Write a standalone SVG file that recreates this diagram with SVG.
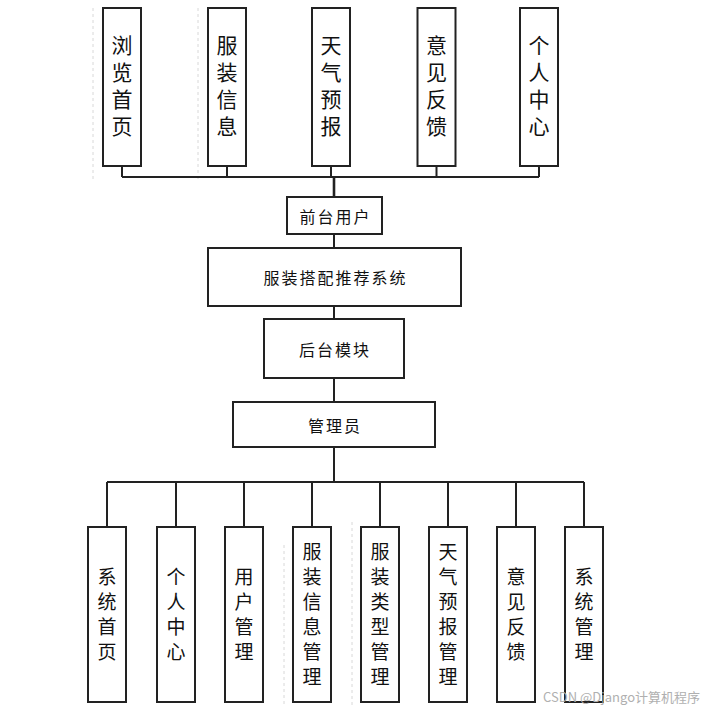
<svg xmlns="http://www.w3.org/2000/svg" width="710" height="710" viewBox="0 0 710 710">
<style>
.box{fill:#fff;stroke:#222;stroke-width:2}
.ln{fill:none;stroke:#222;stroke-width:2}
.guide{fill:none;stroke:#d8d8d8;stroke-width:1;stroke-dasharray:3,3}
.t{font-family:"Noto Sans CJK SC","Noto Sans",sans-serif;fill:#111;text-anchor:middle}
.h{dominant-baseline:central}
.v{writing-mode:vertical-rl;text-orientation:upright}
.tv{font-size:21px;letter-spacing:6px}
.tb{font-size:19px;letter-spacing:6px}
.th{font-size:16px;letter-spacing:2px}
.wm{font-family:"Noto Sans CJK SC","Noto Sans",sans-serif;font-size:13px;fill:#b0b0b0}
</style>
<rect width="710" height="710" fill="#fff"/>
<g id="guides">
<line class="guide" x1="93" y1="8" x2="93" y2="180"/>
<line class="guide" x1="198" y1="8" x2="198" y2="180"/>
<line class="guide" x1="284" y1="545" x2="284" y2="705"/>
<line class="guide" x1="352" y1="522" x2="352" y2="705"/>
</g>
<g id="connectors">
<path class="ln" d="M122,166V177M227,166V177M331,166V177M436.5,166V177M539,166V177M122,177H539"/>
<path class="ln" style="stroke-width:2.6" d="M334,177V197"/>
<path class="ln" d="M334,234V248M334,306V319M334,378V402M334,447V482"/>
<path class="ln" d="M107,482H584M107,482V527M176,482V527M244,482V527M312,482V527M380,482V527M448,482V527M516,482V527M584,482V527"/>
</g>
<g id="n-liulan"><rect class="box" x="103" y="8" width="38" height="158"/><text class="t v tv" x="122" y="89">浏览首页</text></g>
<g id="n-fuzhuang"><rect class="box" x="208" y="8" width="38" height="158"/><text class="t v tv" x="227" y="89">服装信息</text></g>
<g id="n-tianqi"><rect class="box" x="312" y="8" width="38" height="158"/><text class="t v tv" x="331" y="89">天气预报</text></g>
<g id="n-yijian"><rect class="box" x="417.5" y="8" width="38" height="158"/><text class="t v tv" x="436.5" y="89">意见反馈</text></g>
<g id="n-geren"><rect class="box" x="520" y="8" width="38" height="158"/><text class="t v tv" x="539" y="89">个人中心</text></g>
<g id="n-qiantai"><rect class="box" x="287" y="197" width="95" height="37"/><text class="t h th" x="335.5" y="215.5">前台用户</text></g>
<g id="n-system"><rect class="box" x="208" y="248" width="253" height="58"/><text class="t h th" x="335.5" y="277">服装搭配推荐系统</text></g>
<g id="n-houtai"><rect class="box" x="264" y="319" width="140" height="59"/><text class="t h th" x="335" y="348.5">后台模块</text></g>
<g id="n-admin"><rect class="box" x="233" y="402" width="202" height="45"/><text class="t h th" x="335" y="424.5">管理员</text></g>
<g id="n-b1"><rect class="box" x="88" y="527" width="38" height="175"/><text class="t v tb" x="107" y="617.5">系统首页</text></g>
<g id="n-b2"><rect class="box" x="157" y="527" width="38" height="175"/><text class="t v tb" x="176" y="617.5">个人中心</text></g>
<g id="n-b3"><rect class="box" x="225" y="527" width="38" height="175"/><text class="t v tb" x="244" y="617.5">用户管理</text></g>
<g id="n-b4"><rect class="box" x="293" y="527" width="38" height="175"/><text class="t v tb" x="312" y="617.5">服装信息管理</text></g>
<g id="n-b5"><rect class="box" x="361" y="527" width="38" height="175"/><text class="t v tb" x="380" y="617.5">服装类型管理</text></g>
<g id="n-b6"><rect class="box" x="429" y="527" width="38" height="175"/><text class="t v tb" x="448" y="617.5">天气预报管理</text></g>
<g id="n-b7"><rect class="box" x="497" y="527" width="38" height="175"/><text class="t v tb" x="516" y="617.5">意见反馈</text></g>
<g id="n-b8"><rect class="box" x="565" y="527" width="38" height="175"/><text class="t v tb" x="584" y="617.5">系统管理</text></g>
<text class="wm" x="543" y="702">CSDN @Django计算机程序</text>
</svg>
